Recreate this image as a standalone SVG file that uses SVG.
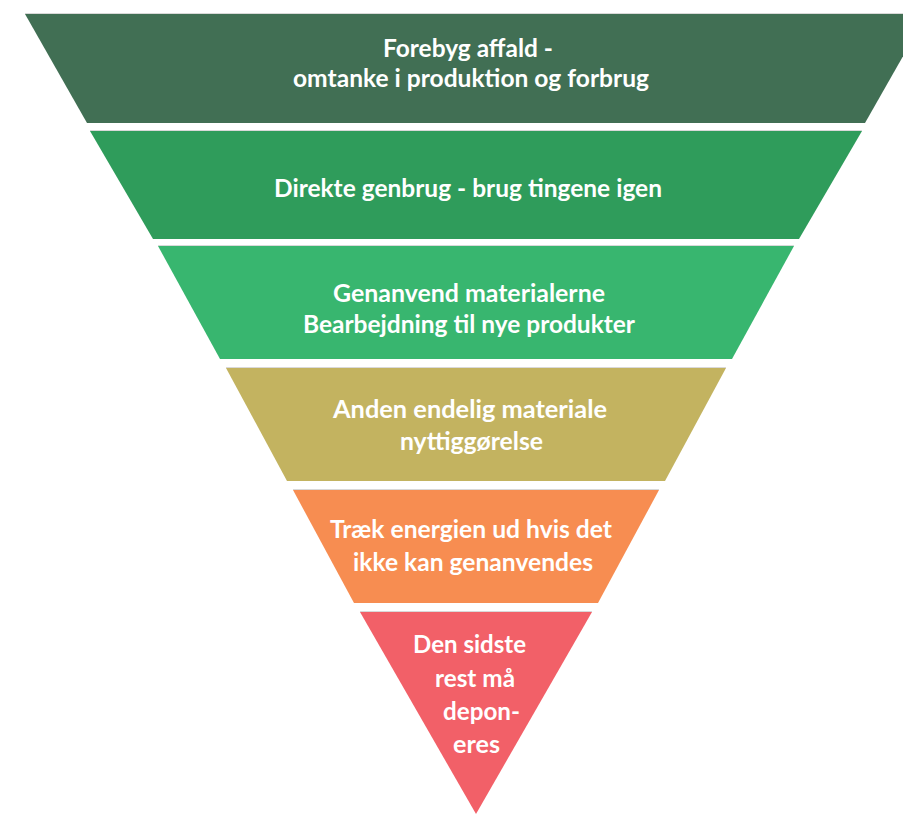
<svg xmlns="http://www.w3.org/2000/svg" width="903" height="816" viewBox="0 0 903 816">
<style>
  .band { stroke: none; }
  .edge { stroke: #d9d9d9; stroke-width: 1; fill: none; }
  .lbl { font-family: Lato, "Open Sans", "DejaVu Sans", sans-serif; font-weight: 700; font-size: 24px; fill: #ffffff; }
</style>
<rect width="903" height="816" fill="#ffffff"/>
<g id="connectors"></g>
<g id="level1">
  <polygon class="band" fill="#416F54" points="25,14 927,14 865,123 87,123"/>
  <line class="edge" x1="25" y1="13.5" x2="903" y2="13.5"/>
  <text class="lbl" x="383" y="57" textLength="170" lengthAdjust="spacingAndGlyphs">Forebyg affald -</text>
  <text class="lbl" x="293" y="87" textLength="356" lengthAdjust="spacingAndGlyphs">omtanke i produktion og forbrug</text>
</g>
<g id="level2">
  <polygon class="band" fill="#2F9C5B" points="90,131 862,131 799,239 153,239"/>
  <line class="edge" x1="90" y1="130.5" x2="862" y2="130.5"/>
  <text class="lbl" x="274" y="197" textLength="388" lengthAdjust="spacingAndGlyphs">Direkte genbrug - brug tingene igen</text>
</g>
<g id="level3">
  <polygon class="band" fill="#38B66F" points="158,246 794,246 732,359 220,359"/>
  <line class="edge" x1="158" y1="245.5" x2="794" y2="245.5"/>
  <text class="lbl" x="333" y="302" textLength="272" lengthAdjust="spacingAndGlyphs">Genanvend materialerne</text>
  <text class="lbl" x="303" y="333" textLength="332" lengthAdjust="spacingAndGlyphs">Bearbejdning til nye produkter</text>
</g>
<g id="level4">
  <polygon class="band" fill="#C3B360" points="226,368 726,368 665,481 287,481"/>
  <line class="edge" x1="226" y1="367.5" x2="726" y2="367.5"/>
  <text class="lbl" x="333" y="418" textLength="274" lengthAdjust="spacingAndGlyphs">Anden endelig materiale</text>
  <text class="lbl" x="400" y="450" textLength="143" lengthAdjust="spacingAndGlyphs">nyttiggørelse</text>
</g>
<g id="level5">
  <polygon class="band" fill="#F78D51" points="293,490 659,490 598,603 354,603"/>
  <line class="edge" x1="293" y1="489.5" x2="659" y2="489.5"/>
  <text class="lbl" x="330" y="538" textLength="282" lengthAdjust="spacingAndGlyphs">Træk energien ud hvis det</text>
  <text class="lbl" x="353" y="571" textLength="240" lengthAdjust="spacingAndGlyphs">ikke kan genanvendes</text>
</g>
<g id="level6">
  <polygon class="band" fill="#F26068" points="360,612 592,612 476,814"/>
  <line class="edge" x1="360" y1="611.5" x2="592" y2="611.5"/>
  <text class="lbl" x="413" y="653" textLength="113" lengthAdjust="spacingAndGlyphs">Den sidste</text>
  <text class="lbl" x="435" y="687" textLength="80" lengthAdjust="spacingAndGlyphs">rest må</text>
  <text class="lbl" x="443" y="720" textLength="77" lengthAdjust="spacingAndGlyphs">depon-</text>
  <text class="lbl" x="453" y="753" textLength="47" lengthAdjust="spacingAndGlyphs">eres</text>
</g>
</svg>
